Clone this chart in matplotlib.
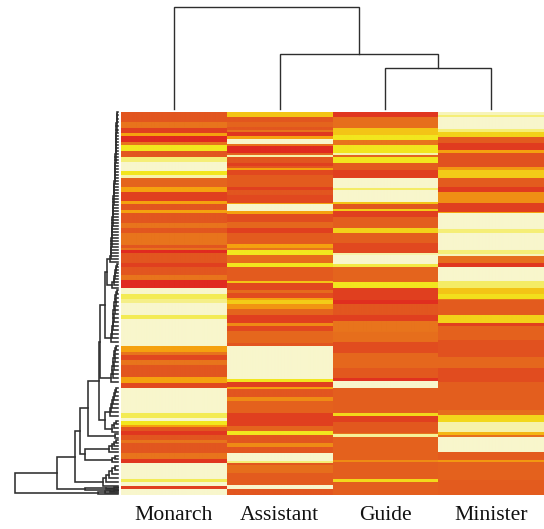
import matplotlib
matplotlib.use("Agg")
import matplotlib.pyplot as plt
import numpy as np
from matplotlib.colors import LinearSegmentedColormap

columns = ["Monarch", "Assistant", "Guide", "Minister"]
n_rows = 383

monarch_edges = [0,10,16,21,24,30,33,39,45,50,59,63,66,75,80,89,92,98,101,111,116,121,133,136,138,141,151,155,163,168,176,182,187,191,203,207,234,240,243,248,253,265,271,276,301,306,309,313,315,319,323,328,331,341,347,351,367,370,374,377,383]
monarch_vals = [1,2,0.5,3,0,2,4,1,4.5,5,4,4.8,1.5,3,0.5,3,1,3,1,2,1,2,1,2,0,1,0.5,1,2,0,5,4.3,4.6,5,4.3,5,3,2,0.7,2,1,3,0.7,5,4.3,5,4,3,1,0.3,1,2,1,2,0.3,5,4.3,5,0.5,5]
assistant_edges = [0,5,10,15,18,20,24,27,32,34,41,43,45,51,54,56,58,63,75,78,83,91,92,99,102,110,116,121,132,136,138,143,151,155,169,171,178,181,186,188,192,197,203,211,214,219,231,234,267,270,275,277,285,289,301,314,319,323,331,335,341,349,351,353,361,373,377,383]
assistant_vals = [3.5,1,1.5,1,2,0.3,3,5,2,0,1.5,4.8,1,0.5,1,3,0.7,1.2,0.5,1,0.7,3,5,3,0.8,1.6,0.5,1.2,3,2,4,1.7,4,1.2,3.5,0.7,1.7,0.8,3,3.6,2.7,1.5,0.5,2.5,0.7,1.6,1,5,4,0.5,3,1,2.5,1.4,0.5,1.5,4,1,2.5,1,5,4.5,1,1.8,1.2,5,1]
guide_edges = [0,5,16,23,28,33,41,43,45,51,58,66,76,78,90,92,97,99,105,116,121,131,141,143,152,155,170,176,188,192,203,209,220,230,241,256,266,269,276,301,304,310,321,322,325,348,350,367,370,383]
guide_vals = [0.3,1.8,3.5,4,2,4,4.8,1.5,4,1.2,0.5,5,4.4,5,3.5,1,3.6,0.5,1.3,3.7,1.3,0.7,4.8,5,4.2,1.5,4,0.5,0.1,1,0.5,2,1.8,0.8,1.6,1.1,0.2,5,1.3,3.8,0.5,1.1,2,4.7,1.4,2.5,1.3,3.8,1.3]
minister_edges = [0,3,5,17,20,25,31,38,41,55,58,66,75,80,91,100,101,117,121,138,142,144,151,155,169,176,182,187,188,203,211,214,228,245,256,270,298,303,310,320,323,325,340,348,350,368,383]
minister_vals = [4.9,4.5,5,4.5,3.7,1.2,0.4,3,0.9,2.8,3.6,1.2,0.4,2.6,0.5,3,5,4.5,5,4.5,4.9,1.8,0.3,5,4.4,3.5,3.9,2,1.2,3.7,0.5,1.4,0.9,1.6,0.8,1.3,1.8,3.8,4.8,3.3,1.8,5,1.2,2.8,1.4,1.2]
band_table = [(monarch_edges, monarch_vals), (assistant_edges, assistant_vals),
              (guide_edges, guide_vals), (minister_edges, minister_vals)]

# top dendrogram merge heights
top_heights = [41, 55, 102]

# left dendrogram: leaf rows and merge heights of each comb
comb_a_rows = [0,3,7,10,14,18,21,24,27,30,33,36,39,42,45,48,51,54,57,60,63,66,69,72,75,78,81,84,87,90,93,96,99,102,105,108,111,114,117,120,123,126,129,132,135,138,141,144,147,150]
comb_a_h = [1,1.2,1,1.4,1.6,1.3,1.8,1.6,2,1.8,2.2,2,2.4,2.1,2.6,2.4,2.8,3,2.7,3.2,3,3.4,3.2,3.6,4,3.7,4.2,4,4.6,4.3,4.8,5,4.6,5.2,5,5.6,5.2,5.8,6,5.6,6.3,6,6.6,6.4,7,6.7,7.4,7.2,8,8.4]
comb_b_rows = [152,155,158,161,164,167,170,173,176]
comb_b_h = [1.5,2.5,2,3.5,3,4.5,4,6,7]
comb_c_rows = [178,182,186,190,194,198,202,206,210,214,218,222,226,230]
comb_c_h = [1.5,2.5,3,2.5,4,3.5,5,4.5,5.5,5,6,6.5,7,8]
comb_d_rows = [234,238,242,246,250,254,258,262,266,270]
comb_d_h = [2,3,4,3,5,4,6,5,7,8.5]
comb_e_rows = [276,280,284,288,292,296,300,304]
comb_e_h = [2,3,4,5,6,7,8,9]
comb_f_rows = [309,312,316,320]
comb_f_h = [2,4,6,8]
comb_g_rows = [328,331,334,337,340]
comb_g_h = [2,4,6,9,13]
comb_h_rows = [344,347,350]
comb_h_h = [3,6,13]
comb_i_rows = [354,358,362,366,370,374]
comb_i_h = [3,6,9,12,15,20]
comb_j_rows = [375,376,377]
comb_j_h = [4,12]
comb_k_rows = [378,379,380,381,382]
comb_k_h = [4,8,13,20,33]
level_heights = dict(ab=11, abc=13, abcd=18, ef=13, spine_up=19, lone=3, spine_mid=30,
                     gh=33, upper=38, i_join=43, top=61, lone_j=33, root=103)
lone_rows = (322, 326)

palette = ["#e02a20", "#e2561f", "#e8741c", "#f5a20f", "#f2e61e", "#f8f6cc"]
cmap = LinearSegmentedColormap.from_list("heat", palette)
line_colour = "#2e2e2e"
W, H = 544, 529

fig = plt.figure(figsize=(W / 100, H / 100), dpi=100, facecolor="white")
ax = fig.add_axes([121 / W, (H - 495) / H, 423 / W, 383 / H])
for i, (edges, vals) in enumerate(band_table):
    column = np.repeat(vals, np.diff(edges)).reshape(-1, 1)
    ax.imshow(column, cmap=cmap, vmin=0, vmax=5, aspect="auto",
              interpolation="bilinear", extent=(i, i + 1, n_rows, 0))
ax.set_xlim(0, 4)
ax.set_ylim(n_rows, 0)
ax.set_yticks([])
ax.set_xticks(np.arange(4) + 0.5)
ax.set_xticklabels(columns, family="Liberation Serif", fontsize=15.6, color="#111111")
ax.tick_params(axis="x", length=0, pad=8)
for s in ax.spines.values():
    s.set_visible(False)

# top dendrogram
top = fig.add_axes([121 / W, (H - 109) / H, 423 / W, 102 / H])
top.set_xlim(0, 4)
top.set_ylim(0, 102)
top.axis("off")
kw = dict(color=line_colour, lw=1.0, clip_on=False, solid_joinstyle="miter")
top.plot([2.5, 2.5, 3.5, 3.5], [0, top_heights[0], top_heights[0], 0], **kw)
top.plot([1.5, 1.5, 3.0, 3.0], [0, top_heights[1], top_heights[1], top_heights[0]], **kw)
top.plot([0.5, 0.5, 2.25, 2.25], [0, top_heights[2], top_heights[2], top_heights[1]], **kw)

# left dendrogram
left = fig.add_axes([0, (H - 495) / H, 118 / W, 383 / H])
left.set_xlim(118, 0)
left.set_ylim(n_rows, 0)
left.axis("off")


def comb(rows, heights):
    node = rows[0]
    for r, h in zip(rows[1:], heights):
        node = (h, node, r)
    return node


def draw(node):
    """Draw a nested (height, child, child) tree, return (height, row)."""
    if not isinstance(node, tuple):
        return 0.0, float(node)
    h, a, b = node
    ha, ya = draw(a)
    hb, yb = draw(b)
    left.plot([ha, h, h, hb], [ya, ya, yb, yb], color=line_colour, lw=1.15,
              solid_joinstyle="miter", clip_on=False)
    return h, (ya + yb) / 2


L = level_heights
ab = (L["ab"], comb(comb_a_rows, comb_a_h), comb(comb_b_rows, comb_b_h))
abc = (L["abc"], ab, comb(comb_c_rows, comb_c_h))
abcd = (L["abcd"], abc, comb(comb_d_rows, comb_d_h))
ef = (L["ef"], comb(comb_e_rows, comb_e_h), comb(comb_f_rows, comb_f_h))
spine_up = (L["spine_up"], abcd, ef)
spine_mid = (L["spine_mid"], spine_up, (L["lone"], lone_rows[0], lone_rows[1]))
gh = (L["gh"], comb(comb_g_rows, comb_g_h), comb(comb_h_rows, comb_h_h))
upper = (L["upper"], spine_mid, gh)
joined = (L["i_join"], upper, comb(comb_i_rows, comb_i_h))
top_node = (L["top"], joined, (L["lone_j"], comb(comb_j_rows, comb_j_h), 378))
root = (L["root"], top_node, comb(comb_k_rows, comb_k_h))
draw(root)

fig.savefig("out.png", dpi=100, facecolor="white")
